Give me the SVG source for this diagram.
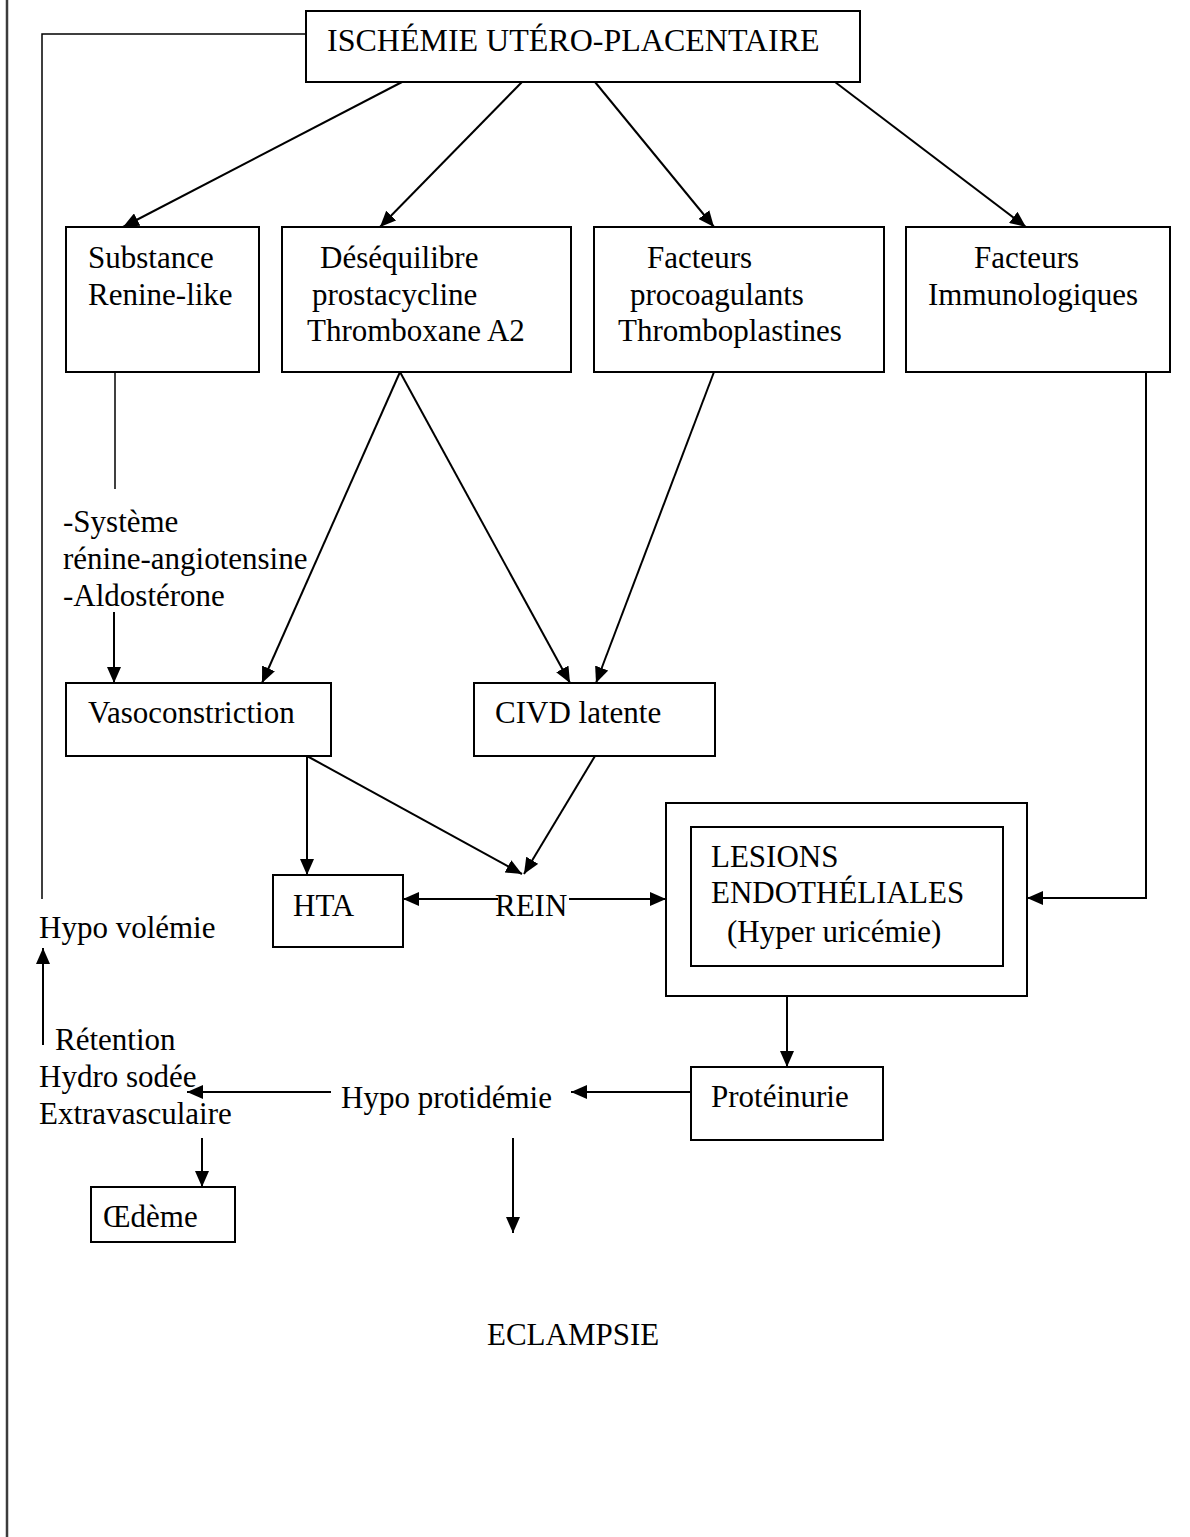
<svg xmlns="http://www.w3.org/2000/svg" width="1190" height="1537" viewBox="0 0 1190 1537">
<style>
text{font-family:"Liberation Serif","Times New Roman",serif;font-size:31px;fill:#000}
.box{fill:#fff;stroke:#000;stroke-width:2}
.c{fill:none;stroke:#000;stroke-width:2}
.thin{fill:none;stroke:#000;stroke-width:1.5}
</style>
<defs>
<marker id="ah" markerUnits="userSpaceOnUse" markerWidth="16" markerHeight="14" refX="16" refY="7" orient="auto">
<path d="M0,0 L16,7 L0,14 z" fill="#000"/>
</marker>
</defs>
<rect width="1190" height="1537" fill="#fff"/>
<line x1="7" y1="0" x2="7" y2="1537" stroke="#3c3c3c" stroke-width="2.5"/>

<g id="connectors">
<polyline class="thin" points="306,34 42,34 42,899"/>
<line class="c" x1="402" y1="82" x2="123" y2="227" marker-end="url(#ah)"/>
<line class="c" x1="522" y1="82" x2="380" y2="227" marker-end="url(#ah)"/>
<line class="c" x1="595" y1="82" x2="714" y2="227" marker-end="url(#ah)"/>
<line class="c" x1="835" y1="82" x2="1026" y2="227" marker-end="url(#ah)"/>
<line class="thin" x1="115" y1="372" x2="115" y2="489"/>
<line class="c" x1="114" y1="612" x2="114" y2="683" marker-end="url(#ah)"/>
<line class="c" x1="400" y1="372" x2="262" y2="683" marker-end="url(#ah)"/>
<line class="c" x1="400" y1="372" x2="570" y2="683" marker-end="url(#ah)"/>
<line class="c" x1="714" y1="372" x2="596" y2="683" marker-end="url(#ah)"/>
<line class="c" x1="307" y1="756" x2="307" y2="875" marker-end="url(#ah)"/>
<line class="c" x1="307" y1="756" x2="522" y2="874" marker-end="url(#ah)"/>
<line class="c" x1="595" y1="756" x2="524" y2="874" marker-end="url(#ah)"/>
<line class="c" x1="498" y1="899" x2="403" y2="899" marker-end="url(#ah)"/>
<line class="c" x1="569" y1="899" x2="666" y2="899" marker-end="url(#ah)"/>
<polyline class="c" points="1146,372 1146,898 1027,898" marker-end="url(#ah)"/>
<line class="c" x1="787" y1="996" x2="787" y2="1067" marker-end="url(#ah)"/>
<line class="c" x1="690" y1="1092" x2="571" y2="1092" marker-end="url(#ah)"/>
<line class="c" x1="331" y1="1092" x2="187" y2="1092" marker-end="url(#ah)"/>
<line class="c" x1="513" y1="1138" x2="513" y2="1233" marker-end="url(#ah)"/>
<line class="c" x1="202" y1="1138" x2="202" y2="1187" marker-end="url(#ah)"/>
<line class="c" x1="43" y1="1045" x2="43" y2="948" marker-end="url(#ah)"/>
</g>

<g id="ischemie">
<rect class="box" x="306" y="11" width="554" height="71"/>
<text x="327" y="51" font-size="32" style="font-size:32px">ISCHÉMIE UTÉRO-PLACENTAIRE</text>
</g>
<g id="substance">
<rect class="box" x="66" y="227" width="193" height="145"/>
<text x="88" y="268">Substance</text>
<text x="88" y="304.5">Renine-like</text>
</g>
<g id="desequilibre">
<rect class="box" x="282" y="227" width="289" height="145"/>
<text x="320" y="268">Déséquilibre</text>
<text x="312" y="304.5">prostacycline</text>
<text x="307" y="341">Thromboxane A2</text>
</g>
<g id="procoagulants">
<rect class="box" x="594" y="227" width="290" height="145"/>
<text x="647" y="268">Facteurs</text>
<text x="630" y="304.5">procoagulants</text>
<text x="618" y="341">Thromboplastines</text>
</g>
<g id="immunologiques">
<rect class="box" x="906" y="227" width="264" height="145"/>
<text x="974" y="268">Facteurs</text>
<text x="928" y="304.5">Immunologiques</text>
</g>
<g id="raa">
<text x="63" y="532">-Système</text>
<text x="63" y="569">rénine-angiotensine</text>
<text x="63" y="606">-Aldostérone</text>
</g>
<g id="vasoconstriction">
<rect class="box" x="66" y="683" width="265" height="73"/>
<text x="88" y="723">Vasoconstriction</text>
</g>
<g id="civd">
<rect class="box" x="474" y="683" width="241" height="73"/>
<text x="495" y="723">CIVD latente</text>
</g>
<g id="hta">
<rect class="box" x="273" y="875" width="130" height="72"/>
<text x="293" y="916">HTA</text>
</g>
<g id="rein">
<text x="495" y="916">REIN</text>
</g>
<g id="lesions">
<rect class="box" x="666" y="803" width="361" height="193"/>
<rect class="box" x="691" y="827" width="312" height="139"/>
<text x="711" y="867">LESIONS</text>
<text x="711" y="903">ENDOTHÉLIALES</text>
<text x="727" y="942">(Hyper uricémie)</text>
</g>
<g id="hypovolemie">
<text x="39" y="938">Hypo volémie</text>
</g>
<g id="retention">
<text x="55" y="1050">Rétention</text>
<text x="39" y="1087">Hydro sodée</text>
<text x="39" y="1124">Extravasculaire</text>
</g>
<g id="hypoprotidemie">
<text x="341" y="1108">Hypo protidémie</text>
</g>
<g id="proteinurie">
<rect class="box" x="691" y="1067" width="192" height="73"/>
<text x="711" y="1107">Protéinurie</text>
</g>
<g id="oedeme">
<rect class="box" x="91" y="1187" width="144" height="55"/>
<text x="103" y="1227">Œdème</text>
</g>
<g id="eclampsie">
<text x="487" y="1345">ECLAMPSIE</text>
</g>
</svg>
